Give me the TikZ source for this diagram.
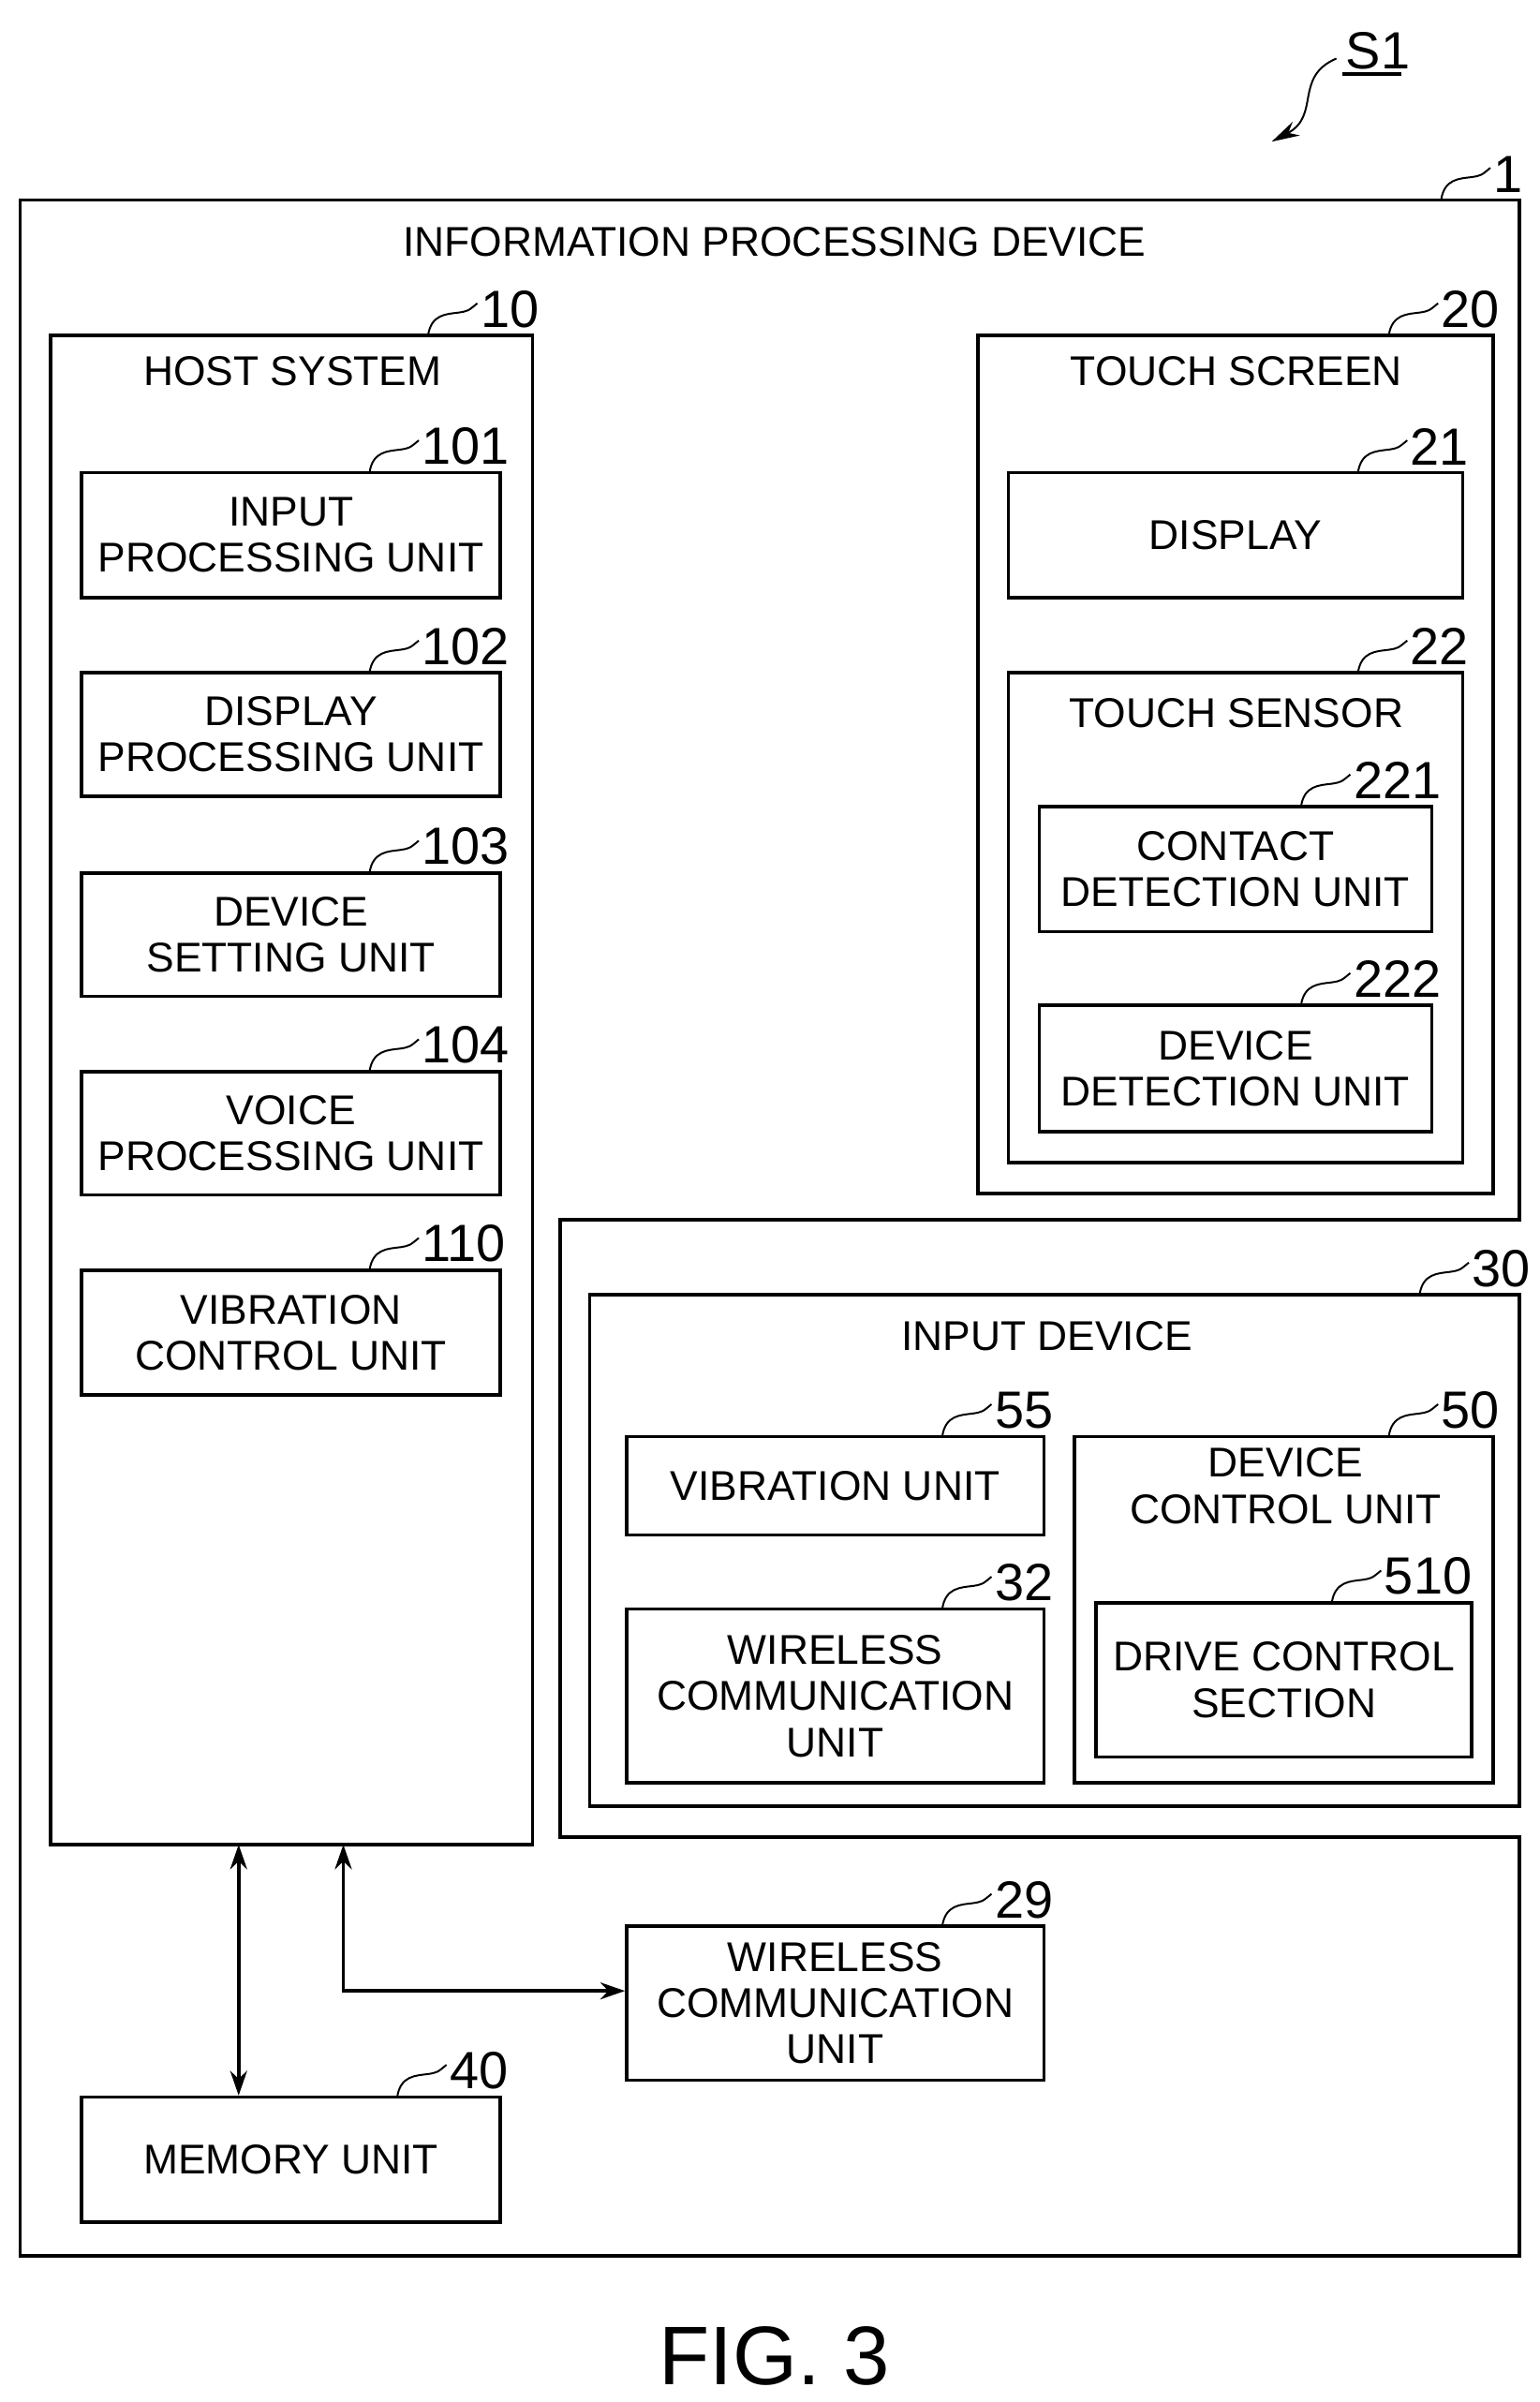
\documentclass[tikz,border=0pt]{standalone}
\usepackage{fontspec}
\setmainfont{Liberation Sans}
\usetikzlibrary{arrows.meta}
\begin{document}
\begin{tikzpicture}[x=1pt,y=-1pt,
  lw/.style={line width=2.2pt},
  box/.style={draw,lw,align=center,font=\fontsize{27}{30}\selectfont},
  txt/.style={align=center,font=\fontsize{27}{30}\selectfont},
  num/.style={anchor=south west,inner sep=0pt,font=\fontsize{34}{36}\selectfont},
  ld/.style={line width=1.2pt},
  arr/.style={lw,-{Stealth[length=16pt,width=11pt]}}]
\useasboundingbox (0,0) rectangle (1000,1560);
\newcommand{\leadr}[3]{%
  \draw[ld] (#1,#2) .. controls (#1+2,#2-14) and (#1+12,#2-14) .. (#1+20,#2-15) .. controls (#1+26,#2-16) .. (#1+32,#2-21);
  \node[num] at (#1+34,#2-5) {#3};}
% outer device 1
\draw[lw] (13,130) -- (987,130) -- (987,792) -- (364,792) -- (364,1193) -- (987,1193) -- (987,1465) -- (13,1465) -- cycle;
\node[txt] (t1) at (503,157) {INFORMATION PROCESSING DEVICE};
\leadr{936}{130}{1}
% S1
\node[num,font=\fontsize{34}{36}\selectfont] (s1) at (874,45) {S1};
\draw[lw] (872,48) -- (910,48);
\draw[ld,-{Stealth[length=18pt,width=10pt]}] (868,38) .. controls (840,50) and (858,75) .. (826,92);
% host system
\draw[lw] (33,218) rectangle (346,1198);
\node[txt] (hs) at (190,241) {HOST SYSTEM};
\leadr{278}{218}{10}
\node[box,minimum width=272pt,minimum height=81pt] (n101) at (189,347.5) {INPUT\\PROCESSING UNIT};
\leadr{240}{307}{101}
\node[box,minimum width=272pt,minimum height=80pt] (n102) at (189,477) {DISPLAY\\PROCESSING UNIT};
\leadr{240}{437}{102}
\node[box,minimum width=272pt,minimum height=80pt] (n103) at (189,607) {DEVICE\\SETTING UNIT};
\leadr{240}{567}{103}
\node[box,minimum width=272pt,minimum height=80pt] (n104) at (189,736) {VOICE\\PROCESSING UNIT};
\leadr{240}{696}{104}
\node[box,minimum width=272pt,minimum height=81pt] (n110) at (189,865.5) {VIBRATION\\CONTROL UNIT};
\leadr{240}{825}{110}
% touch screen
\draw[lw] (635,218) rectangle (970,775);
\node[txt] (ts) at (803,241) {TOUCH SCREEN};
\leadr{902}{218}{20}
\node[box,minimum width=295pt,minimum height=81pt] (n21) at (802.5,347.5) {DISPLAY};
\leadr{882}{307}{21}
\draw[lw] (655,437) rectangle (950,755);
\node[txt] (tsen) at (803,463) {TOUCH SENSOR};
\leadr{882}{437}{22}
\node[box,minimum width=255pt,minimum height=81pt] (n221) at (802.5,564.5) {CONTACT\\DETECTION UNIT};
\leadr{845}{524}{221}
\node[box,minimum width=255pt,minimum height=82pt] (n222) at (802.5,694) {DEVICE\\DETECTION UNIT};
\leadr{845}{653}{222}
% input device 30
\draw[lw] (383,841) rectangle (987,1173);
\node[txt] (id) at (680,868) {INPUT DEVICE};
\leadr{922}{841}{30}
\node[box,minimum width=271pt,minimum height=64pt] (n55) at (542.5,965) {VIBRATION UNIT};
\leadr{612}{933}{55}
\node[box,minimum width=271pt,minimum height=113pt] (n32) at (542.5,1101.5) {WIRELESS\\COMMUNICATION\\UNIT};
\leadr{612}{1045}{32}
\draw[lw] (698,933) rectangle (970,1158);
\node[txt] (dcu) at (835,965) {DEVICE\\CONTROL UNIT};
\leadr{902}{933}{50}
\node[box,minimum width=244pt,minimum height=100pt] (n510) at (834,1091) {DRIVE CONTROL\\SECTION};
\leadr{865}{1041}{510}
% wireless 29 and memory 40
\node[box,minimum width=271pt,minimum height=100pt] (n29) at (542.5,1301) {WIRELESS\\COMMUNICATION\\UNIT};
\leadr{612}{1251}{29}
\node[box,minimum width=272pt,minimum height=81pt] (n40) at (189,1402.5) {MEMORY UNIT};
\leadr{258}{1362}{40}
% connectors
\coordinate (hb1) at (155,1198);
\coordinate (hb2) at (223,1198);
\coordinate (c1) at (223,1293);
\draw[arr,{Stealth[length=16pt,width=11pt]}-{Stealth[length=16pt,width=11pt]}] (hb1) -- (n40.north -| hb1);
\draw[arr,{Stealth[length=16pt,width=11pt]}-{Stealth[length=16pt,width=11pt]}] (hb2) -- (c1) -- (c1 -| n29.west);
% caption
\node[font=\fontsize{54}{58}\selectfont] (fig) at (503,1530) {FIG. 3};
\end{tikzpicture}
\end{document}
